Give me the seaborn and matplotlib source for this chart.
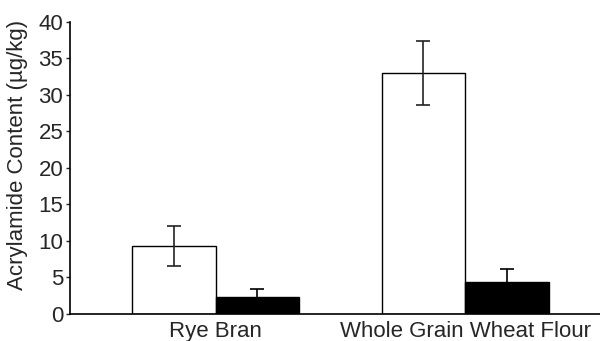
import matplotlib
matplotlib.use("Agg")
import matplotlib.pyplot as plt
import seaborn as sns
import pandas as pd

# values
categories = ["Rye Bran", "Whole Grain Wheat Flour"]
treatments = ["control", "treated"]
control_mean = [9.3, 33.0]
control_err = [2.7, 4.4]
treated_mean = [2.35, 4.4]
treated_err = [1.0, 1.7]

df = pd.DataFrame({
    "category": categories * 2,
    "treatment": [treatments[0]] * 2 + [treatments[1]] * 2,
    "value": control_mean + treated_mean,
    "err": control_err + treated_err,
})

sns.set_style("white")
plt.rcParams["font.family"] = ["Liberation Sans", "DejaVu Sans"]

fig = plt.figure(figsize=(6, 3.41), dpi=100)
ax = fig.add_axes([0.117, 0.08, 0.883, 0.856])

sns.barplot(data=df, x="category", y="value", hue="treatment",
            palette=["white", "black"], edgecolor="black", linewidth=1,
            width=0.67, errorbar=None, legend=False, ax=ax)

# error bars at the bar centres
for bars, errs, col in zip(ax.containers, [control_err, treated_err], ["#222222", "black"]):
    for p, e in zip(bars.patches, errs):
        xc = p.get_x() + p.get_width() / 2
        ax.errorbar(xc, p.get_height(), yerr=e, fmt="none", ecolor=col,
                    elinewidth=1.2, capsize=5, capthick=1.2)

ax.set_xlim(-0.583, 1.54)
ax.set_ylim(0, 40)
ax.set_yticks(range(0, 41, 5))
ax.set_xlabel("")
ax.set_ylabel("Acrylamide Content (µg/kg)", fontsize=16)
ax.yaxis.set_label_coords(-0.08, 0.545)
ax.tick_params(axis="y", labelsize=16, length=3, width=1, direction="out", left=True, pad=2)
ax.tick_params(axis="x", labelsize=16, length=0, pad=5)
sns.despine(ax=ax, top=True, right=True)
for s in ["left", "bottom"]:
    ax.spines[s].set_color("black")
    ax.spines[s].set_linewidth(1.2)

fig.savefig("out.png", dpi=100)
